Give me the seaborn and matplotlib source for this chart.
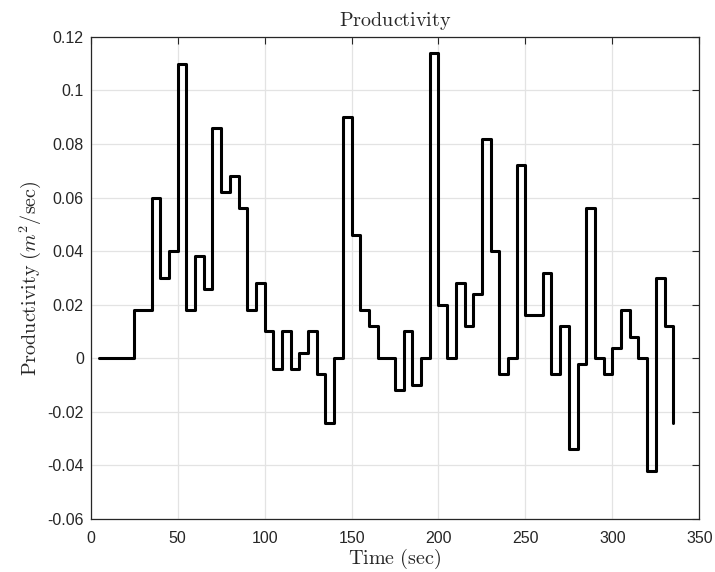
import numpy as np
import pandas as pd
import matplotlib
matplotlib.use('Agg')
import matplotlib.pyplot as plt
import seaborn as sns
from matplotlib.ticker import FuncFormatter

# --- data (5 s steps) ---
time_sec = list(range(5, 340, 5))
productivity = [
    0, 0, 0, 0, 0.018, 0.018, 0.06, 0.03, 0.04, 0.11,
    0.018, 0.038, 0.026, 0.086, 0.062, 0.068, 0.056, 0.018, 0.028, 0.01,
    -0.004, 0.01, -0.004, 0.002, 0.01, -0.006, -0.024, 0, 0.09, 0.046,
    0.018, 0.012, 0, 0, -0.012, 0.01, -0.01, 0, 0.114, 0.02,
    0, 0.028, 0.012, 0.024, 0.082, 0.04, -0.006, 0, 0.072, 0.016,
    0.016, 0.032, -0.006, 0.012, -0.034, -0.002, 0.056, 0, -0.006, 0.004,
    0.018, 0.008, 0, -0.042, 0.03, 0.012, -0.024,
]
x_ticks = [0, 50, 100, 150, 200, 250, 300, 350]
y_ticks = [-0.06, -0.04, -0.02, 0, 0.02, 0.04, 0.06, 0.08, 0.1, 0.12]

df = pd.DataFrame({'t': time_sec, 'p': productivity})

sns.set_style('white')
plt.rcParams['font.family'] = ['Liberation Sans', 'DejaVu Sans']
plt.rcParams['mathtext.fontset'] = 'cm'
plt.rcParams['axes.unicode_minus'] = False

fig = plt.figure(figsize=(7.15, 5.72), dpi=100)
ax = fig.add_axes([0.127, 0.0927, 0.851, 0.843])

sns.lineplot(data=df, x='t', y='p', drawstyle='steps-post', color='black',
             linewidth=2.2, estimator=None, ax=ax)

ax.set_xlim(0, 350)
ax.set_ylim(-0.06, 0.12)
ax.set_xticks(x_ticks)
ax.set_yticks(y_ticks)
ax.yaxis.set_major_formatter(FuncFormatter(lambda v, pos: f'{v:g}'))

ax.grid(True, color='#e3e3e3', linewidth=0.9)
ax.set_axisbelow(True)
for s in ax.spines.values():
    s.set_color('#262626')
    s.set_linewidth(0.9)
ax.tick_params(direction='in', length=5, width=0.8, color='#262626',
               top=True, right=True, labelsize=11.5, labelcolor='#262626')
ax.tick_params(axis='x', pad=9)
ax.tick_params(axis='y', pad=5)

ax.set_title(r'$\mathrm{Productivity}$', fontsize=14.5, pad=8)
ax.set_xlabel(r'$\mathrm{Time\ (sec)}$', fontsize=14.5, labelpad=0)
ax.set_ylabel(r'$\mathrm{Productivity\ (}m^2\mathrm{/sec)}$', fontsize=14.5, labelpad=3)

fig.savefig('out.png', dpi=100)
